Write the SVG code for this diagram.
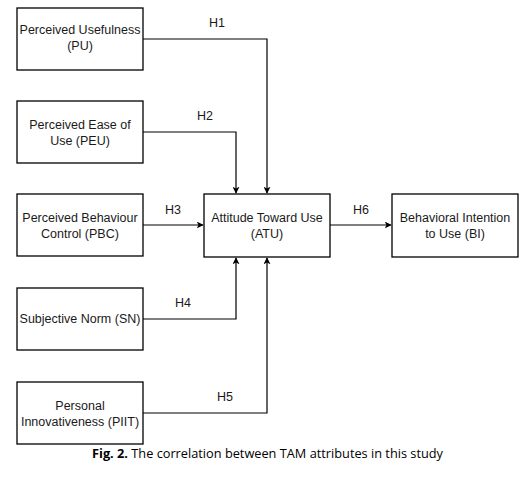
<svg xmlns="http://www.w3.org/2000/svg" width="528" height="477" viewBox="0 0 528 477">
<defs>
<style>
.box{fill:#fff;stroke:#000;stroke-width:1.3}
.t{font-family:"Liberation Sans",Arial,sans-serif;font-size:12.5px;fill:#1a1a1a;text-anchor:middle}
.c{fill:none;stroke:#000;stroke-width:1.2}
.cap{font-family:"Open Sans","Liberation Sans",sans-serif;font-size:12.5px;fill:#000}
</style>
<marker id="ah" viewBox="0 0 10 10" refX="9" refY="5" markerWidth="7" markerHeight="7" markerUnits="userSpaceOnUse" orient="auto">
<path d="M0,0 L10,5 L0,10 L2.5,5 Z" fill="#000"/>
</marker>
</defs>
<rect width="528" height="477" fill="#fff"/>
<g id="connectors">
<polyline class="c" points="143,39 267,39 267,193" marker-end="url(#ah)"/>
<polyline class="c" points="143,132 236,132 236,193" marker-end="url(#ah)"/>
<polyline class="c" points="143,225 203,225" marker-end="url(#ah)"/>
<polyline class="c" points="143,319 236,319 236,258" marker-end="url(#ah)"/>
<polyline class="c" points="143,413 267,413 267,258" marker-end="url(#ah)"/>
<polyline class="c" points="330,225 391,225" marker-end="url(#ah)"/>
<text class="t" x="217" y="27">H1</text>
<text class="t" x="205" y="120">H2</text>
<text class="t" x="173" y="214">H3</text>
<text class="t" x="183" y="307">H4</text>
<text class="t" x="225" y="401">H5</text>
<text class="t" x="361" y="214">H6</text>
</g>
<g id="pu"><rect class="box" x="17" y="8" width="126" height="62"/><text class="t" x="80" y="34">Perceived Usefulness</text><text class="t" x="80" y="50">(PU)</text></g>
<g id="peu"><rect class="box" x="17" y="101" width="126" height="62"/><text class="t" x="80" y="129">Perceived Ease of</text><text class="t" x="80" y="145">Use (PEU)</text></g>
<g id="pbc"><rect class="box" x="17" y="194" width="126" height="62"/><text class="t" x="80" y="222">Perceived Behaviour</text><text class="t" x="80" y="238">Control (PBC)</text></g>
<g id="sn"><rect class="box" x="17" y="288" width="126" height="62"/><text class="t" x="80" y="323">Subjective Norm (SN)</text></g>
<g id="piit"><rect class="box" x="17" y="382" width="126" height="62"/><text class="t" x="80" y="410">Personal</text><text class="t" x="80" y="426">Innovativeness (PIIT)</text></g>
<g id="atu"><rect class="box" x="204" y="194" width="126" height="63"/><text class="t" x="267" y="222">Attitude Toward Use</text><text class="t" x="267" y="238">(ATU)</text></g>
<g id="bi"><rect class="box" x="392" y="194" width="126" height="63"/><text class="t" x="455" y="222">Behavioral Intention</text><text class="t" x="455" y="238">to Use (BI)</text></g>
<text class="cap" x="92" y="458" textLength="351" lengthAdjust="spacingAndGlyphs"><tspan font-weight="bold">Fig. 2.</tspan> The correlation between TAM attributes in this study</text>
</svg>
